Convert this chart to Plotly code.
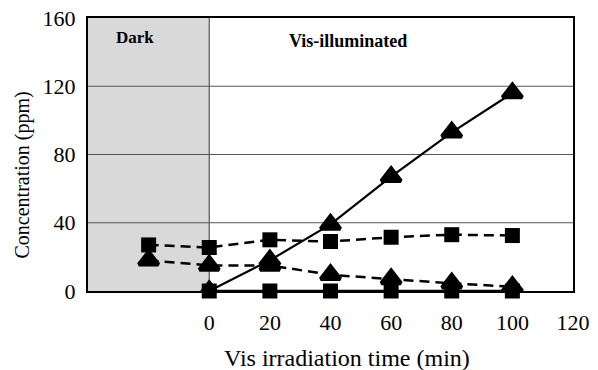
import plotly.graph_objects as go

# Sampling times (min); negative time = dark adsorption phase
t_dark_vis = [-20, 0, 20, 40, 60, 80, 100]
t_vis = [0, 20, 40, 60, 80, 100]

# Concentrations (ppm)
sq_dashed = [27, 25.5, 30, 29, 31.5, 33, 32.5]
tri_dashed = [18, 15, 15, 9.5, 7, 4.5, 2.5]
tri_solid = [0, 18, 39, 67, 93, 116]
sq_solid = [0, 0, 0, 0, 0, 0]

x_ticks = [0, 20, 40, 60, 80, 100, 120]
y_ticks = [0, 40, 80, 120, 160]

FONT = "Liberation Serif"
DASH = "10px,6px"
TRI = dict(symbol="triangle-up", size=17, color="black",
           line=dict(color="black", width=4))
SQ = dict(symbol="square", size=15, color="black")

fig = go.Figure()

fig.add_trace(go.Scatter(
    x=t_dark_vis, y=sq_dashed, mode="lines+markers",
    line=dict(color="black", width=2.5, dash=DASH), marker=SQ,
))
fig.add_trace(go.Scatter(
    x=t_dark_vis, y=tri_dashed, mode="lines+markers",
    line=dict(color="black", width=2.5, dash=DASH), marker=TRI,
))
fig.add_trace(go.Scatter(
    x=t_vis, y=tri_solid, mode="lines+markers",
    line=dict(color="black", width=2.2), marker=TRI,
))
fig.add_trace(go.Scatter(
    x=t_vis, y=sq_solid, mode="lines+markers",
    line=dict(color="black", width=2.5), marker=SQ,
    cliponaxis=False,
))

# Dark period shading
fig.add_shape(type="rect", xref="x", yref="y", x0=-40, x1=0, y0=0, y1=160,
              fillcolor="#d9d9d9", line=dict(width=0), layer="below")
# Horizontal gridlines and the dark/light divider
for yv in y_ticks[1:-1]:
    fig.add_shape(type="line", xref="x", yref="y", x0=-40, x1=120, y0=yv, y1=yv,
                  line=dict(color="#555", width=1.2), layer="below")
fig.add_shape(type="line", xref="x", yref="y", x0=0, x1=0, y0=0, y1=160,
              line=dict(color="#555", width=1.2), layer="below")

fig.add_annotation(x=-31.5, y=148.5, xref="x", yref="y", text="<b>Dark</b>",
                   showarrow=False, xanchor="left", yanchor="middle",
                   font=dict(family=FONT, size=17, color="black"))
fig.add_annotation(x=25.5, y=146.5, xref="x", yref="y", text="<b>Vis-illuminated</b>",
                   showarrow=False, xanchor="left", yanchor="middle",
                   font=dict(family=FONT, size=18, color="black"))

# Axis titles
fig.add_annotation(x=0.535, y=-0.245, xref="paper", yref="paper",
                   text="Vis irradiation time (min)", showarrow=False,
                   xanchor="center", yanchor="middle",
                   font=dict(family=FONT, size=24, color="black"))
fig.add_annotation(x=-0.135, y=0.425, xref="paper", yref="paper",
                   text="Concentration (ppm)", showarrow=False, textangle=-90,
                   xanchor="center", yanchor="middle",
                   font=dict(family=FONT, size=20, color="black"))

fig.update_layout(
    width=598, height=370,
    margin=dict(l=88, r=25, t=18, b=79),
    paper_bgcolor="white", plot_bgcolor="white",
    showlegend=False,
    font=dict(family=FONT, size=22, color="black"),
    xaxis=dict(
        range=[-40, 120], tickvals=x_ticks, ticktext=[str(v) for v in x_ticks],
        showgrid=False, zeroline=False, showline=True, mirror=True,
        linecolor="black", linewidth=2, ticks="", ticklabelstandoff=11,
        tickfont=dict(family=FONT, size=22), automargin=False,
    ),
    yaxis=dict(
        range=[0, 160], tickvals=y_ticks, ticktext=[str(v) for v in y_ticks],
        showgrid=False, zeroline=False, showline=True, mirror=True,
        linecolor="black", linewidth=2, ticks="", ticklabelstandoff=6,
        tickfont=dict(family=FONT, size=22), automargin=False,
    ),
)

fig.write_html("out.html")
